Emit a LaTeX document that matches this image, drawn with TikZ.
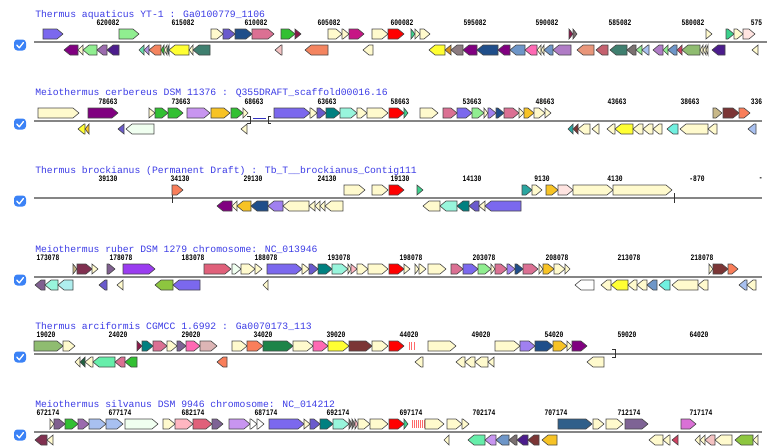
\documentclass[tikz,border=0pt]{standalone}
\usepackage{fontspec}
\usepackage{graphicx}
\newfontfamily\titlefont{Liberation Mono}
\newfontfamily\numfont{Liberation Mono}
\definecolor{cream}{HTML}{FFFACD}
\definecolor{slateA}{HTML}{7B68EE}
\definecolor{slateB}{HTML}{6A5ACD}
\definecolor{lgreen}{HTML}{90EE90}
\definecolor{dblue}{HTML}{1F4E8A}
\definecolor{pvred}{HTML}{DB7093}
\definecolor{lime}{HTML}{32C032}
\definecolor{maroonS}{HTML}{8B1A4A}
\definecolor{mvred}{HTML}{C71585}
\definecolor{gred}{HTML}{FF0000}
\definecolor{msgreen}{HTML}{3CD08C}
\definecolor{mrose}{HTML}{FFE4E1}
\definecolor{dmag}{HTML}{800080}
\definecolor{plumB}{HTML}{9B6BAE}
\definecolor{indig}{HTML}{4B1C8C}
\definecolor{maqua}{HTML}{66DDAA}
\definecolor{lpurple}{HTML}{B090E0}
\definecolor{salm}{HTML}{F4845F}
\definecolor{yel}{HTML}{FFFF33}
\definecolor{dteal}{HTML}{3F7F6F}
\definecolor{pinkS}{HTML}{F4C2C2}
\definecolor{goldrod}{HTML}{D4901F}
\definecolor{taupe}{HTML}{8B7B80}
\definecolor{steel}{HTML}{6E96C8}
\definecolor{hpink}{HTML}{FF69B4}
\definecolor{orchidB}{HTML}{B07CC6}
\definecolor{dsalm}{HTML}{E9967A}
\definecolor{ired}{HTML}{C4606E}
\definecolor{grayG}{HTML}{7A7070}
\definecolor{lblue}{HTML}{A8C0F0}
\definecolor{dsgreen}{HTML}{8FBC70}
\definecolor{crim}{HTML}{D04060}
\definecolor{goldG}{HTML}{F7C325}
\definecolor{lorchid}{HTML}{C895F0}
\definecolor{tealG}{HTML}{008080}
\definecolor{aquaG}{HTML}{98F5DC}
\definecolor{honey}{HTML}{F0FFF0}
\definecolor{tomatoG}{HTML}{F97E5A}
\definecolor{lsea}{HTML}{2AA5A0}
\definecolor{brownG}{HTML}{7B3535}
\definecolor{khakiS}{HTML}{C8B888}
\definecolor{pturq}{HTML}{AFEEEE}
\definecolor{ygreen}{HTML}{8DC63F}
\definecolor{rosyb}{HTML}{DDB5B5}
\definecolor{seag}{HTML}{1E8449}
\definecolor{sprg}{HTML}{66EEAA}
\definecolor{lpink}{HTML}{FFB6C1}
\definecolor{lcrim}{HTML}{E0607A}
\definecolor{pgray}{HTML}{7E6395}
\definecolor{violetG}{HTML}{DA70D6}
\definecolor{dsteel}{HTML}{2F5F8A}
\definecolor{dgreenS}{HTML}{206040}
\definecolor{mpurple}{HTML}{A080F0}
\definecolor{bviolet}{HTML}{9A3CF0}
\definecolor{aquaB}{HTML}{70F0E0}
\definecolor{titleblue}{HTML}{3C3CE6}
\definecolor{cbblue}{HTML}{3B82F6}
\definecolor{mpdark}{HTML}{806090}
\definecolor{brownB}{HTML}{803050}
\definecolor{crisprR}{HTML}{FF6A6A}
\newcommand\gfw[3]{\pgfmathsetmacro\hx{max(#1,#2-6)}\draw[gene,fill=#3] (#1,\trk-13) -- (\hx,\trk-13) -- (#2,\trk-8) -- (\hx,\trk-3) -- (#1,\trk-3) -- cycle;}
\newcommand\grv[3]{\pgfmathsetmacro\hx{min(#2,#1+6)}\draw[gene,fill=#3] (#2,\trk+3) -- (\hx,\trk+3) -- (#1,\trk+8) -- (\hx,\trk+13) -- (#2,\trk+13) -- cycle;}
\newcommand\sclab[2]{\node[scl] at (#1,\trk-19) {\scalebox{0.75}[1]{#2}};}
\newcommand\sclabcut[2]{\node[scl,anchor=west] at (#1,\trk-19) {\scalebox{0.75}[1]{#2}};}
\newcommand\chkbox{\fill[cbblue,rounded corners=2.5] (14,\trk-2.5) rectangle (26,\trk+8.5);
  \draw[white,line width=1pt,line cap=round,line join=round] (16.8,\trk+3.2) -- (19.3,\trk+5.8) -- (23.4,\trk+0.6);}
\tikzset{
  gene/.style={draw=black!72,line width=0.45pt,line join=miter},
  axisline/.style={draw=black!48,line width=1pt},
  ttl/.style={anchor=west,inner sep=0,font=\titlefont\fontsize{7.3}{8}\selectfont,text=titleblue},
  scl/.style={inner sep=0,font=\numfont\bfseries\fontsize{6.3}{7}\selectfont},
  tickmark/.style={draw=black!80,line width=0.6pt}
}
\begin{document}
\begin{tikzpicture}[x=0.75pt,y=-0.75pt]
\useasboundingbox (0,0) rectangle (767,446);
\fill[white] (0,0) rectangle (767,446);
% ---------------- track 1
\def\trk{42}
\node[ttl] (t1) at (35,\trk-27.5) {Thermus aquaticus YT-1 : Ga0100779\_1106};
\draw[axisline] (34,\trk) -- (767,\trk);
\chkbox
\sclab{108}{620082}\sclab{183}{615082}\sclab{256}{610082}\sclab{329}{605082}\sclab{402}{600082}
\sclab{475}{595082}\sclab{547}{590082}\sclab{620}{585082}\sclab{693}{580082}\sclabcut{750.5}{575}
\gfw{43}{63}{slateA}\gfw{119}{139}{lgreen}\gfw{211}{223}{cream}\gfw{223}{235}{slateB}
\gfw{235}{252}{dblue}\gfw{252}{274}{pvred}\gfw{281}{295}{lime}\gfw{295}{301}{maroonS}
\gfw{328}{342}{cream}\gfw{342}{349}{cream}\gfw{349}{364}{mvred}\gfw{372}{388}{cream}
\gfw{388}{404}{gred}\gfw{411}{415}{msgreen}\gfw{415}{420}{cream}\gfw{420}{430}{cream}
\gfw{569}{573}{maroonS}\gfw{573}{577}{grayG}\gfw{706}{712}{cream}\gfw{726}{734}{msgreen}
\gfw{734}{743}{cream}\gfw{743}{755}{mrose}
\grv{64}{78}{dmag}\grv{78}{83}{cream}\grv{83}{97}{lgreen}\grv{97}{107}{plumB}\grv{107}{119}{indig}
\grv{139}{144}{maqua}\grv{144}{149}{lpurple}\grv{149}{161}{salm}\grv{161}{164}{lime}
\grv{164}{167}{cream}\grv{167}{169}{dteal}\grv{169}{189}{yel}\grv{189}{193}{cream}
\grv{193}{210}{dteal}\grv{275}{282}{pinkS}\grv{305}{328}{salm}\grv{363}{373}{cream}
\grv{429}{445}{yel}\grv{445}{451}{goldrod}\grv{451}{463}{taupe}\grv{463}{477}{dmag}
\grv{477}{498}{dblue}\grv{498}{510}{dmag}\grv{510}{525}{steel}\grv{525}{537}{hpink}
\grv{537}{541}{cream}\grv{541}{544}{cream}\grv{544}{553}{steel}\grv{553}{571}{orchidB}
\grv{577}{594}{dsalm}\grv{596}{608}{ired}\grv{610}{627}{dteal}\grv{627}{636}{grayG}
\grv{636}{642}{lgreen}\grv{642}{649}{lblue}\grv{653}{663}{orchidB}\grv{663}{668}{lgreen}
\grv{668}{677}{steel}\grv{677}{682}{crim}\grv{682}{700}{dsgreen}\grv{700}{703}{cream}
\grv{703}{706}{cream}\grv{706}{708}{cream}\grv{712}{725}{indig}\grv{752}{758}{cream}
% ---------------- track 2
\def\trk{121}
\node[ttl] (t2) at (35,\trk-28.5) {Meiothermus cerbereus DSM 11376 : Q355DRAFT\_scaffold00016.16};
\draw[axisline] (34,\trk) -- (762,\trk);
\chkbox
\sclab{108}{78663}\sclab{181}{73663}\sclab{254}{68663}\sclab{327}{63663}\sclab{400}{58663}
\sclab{472}{53663}\sclab{545}{48663}\sclab{617}{43663}\sclab{690}{38663}\sclabcut{750.5}{336}
\draw[tickmark] (247,\trk-5) -- (250,\trk-5) -- (250,\trk+2) -- (247,\trk+2);
\draw[tickmark] (271,\trk-5) -- (268,\trk-5) -- (268,\trk+2) -- (271,\trk+2);
\draw[draw=blue!70!black!80,line width=0.8pt] (253,\trk-2.5) -- (266,\trk-2.5);
\gfw{38}{79}{cream}\gfw{88}{118}{dmag}\gfw{149}{155}{cream}\gfw{155}{168}{lime}
\gfw{168}{183}{lime}\gfw{187}{210}{lorchid}\gfw{211}{230}{goldG}\gfw{231}{243}{lime}
\gfw{243}{248}{cream}\gfw{274}{310}{slateA}\gfw{310}{317}{cream}\gfw{317}{326}{slateB}
\gfw{326}{340}{tealG}\gfw{340}{357}{aquaG}\gfw{357}{367}{cream}\gfw{367}{388}{cream}
\gfw{389}{404}{gred}\gfw{404}{408}{msgreen}\gfw{420}{438}{cream}\gfw{443}{457}{pvred}
\gfw{457}{472}{slateA}\gfw{472}{484}{lgreen}\gfw{484}{488}{cream}\gfw{488}{496}{mpurple}
\gfw{496}{504}{dblue}\gfw{504}{519}{pvred}\gfw{519}{524}{cream}\gfw{524}{534}{goldG}
\gfw{534}{545}{cream}\gfw{545}{551}{cream}\gfw{713}{722}{khakiS}\gfw{723}{739}{brownG}
\gfw{739}{750}{tomatoG}
\grv{78}{85}{yel}\grv{85}{89}{goldG}\grv{118}{124}{slateB}\grv{126}{154}{honey}
\grv{241}{247}{cream}\grv{568}{573}{lsea}\grv{573}{578}{brownG}\grv{578}{590}{cream}
\grv{592}{599}{cream}\grv{607}{615}{cream}\grv{615}{633}{yel}\grv{633}{643}{cream}
\grv{643}{653}{cream}\grv{653}{662}{cream}\grv{667}{678}{aquaB}\grv{680}{708}{cream}
\grv{708}{717}{cream}\grv{748}{756}{lblue}
% ---------------- track 3
\def\trk{198}
\node[ttl] (t3) at (35,\trk-27.5) {Thermus brockianus (Permanent Draft) : Tb\_T\_\_brockianus\_Contig111};
\draw[axisline] (34,\trk) -- (762,\trk);
\chkbox
\sclab{108}{39130}\sclab{180}{34130}\sclab{253}{29130}\sclab{327}{24130}\sclab{400}{19130}
\sclab{472}{14130}\sclab{542}{9130}\sclab{615}{4130}\sclab{697}{-870}\sclabcut{758.5}{-}
\draw[tickmark] (172,\trk-4) -- (172,\trk+5);
\draw[tickmark] (674,\trk-5) -- (674,\trk+5);
\gfw{172}{183}{tomatoG}\gfw{344}{365}{cream}\gfw{372}{388}{cream}\gfw{389}{404}{gred}
\gfw{417}{423}{msgreen}\gfw{522}{532}{lsea}\gfw{532}{542}{cream}\gfw{546}{558}{goldG}
\gfw{558}{573}{mrose}\gfw{573}{613}{cream}\gfw{613}{672}{cream}
\grv{217}{232}{dmag}\grv{232}{237}{cream}\grv{237}{251}{goldG}\grv{251}{268}{dblue}
\grv{268}{283}{mpurple}\grv{283}{309}{cream}\grv{309}{315}{cream}\grv{315}{320}{cream}
\grv{320}{325}{cream}\grv{325}{343}{cream}
\grv{423}{440}{cream}\grv{440}{457}{aquaG}\grv{457}{469}{tealG}\grv{469}{479}{slateB}
\grv{479}{485}{cream}\grv{485}{521}{slateA}
% ---------------- track 4
\def\trk{277}
\node[ttl] (t4) at (35,\trk-28) {Meiothermus ruber DSM 1279 chromosome: NC\_013946};
\draw[axisline] (34,\trk) -- (762,\trk);
\chkbox
\sclab{48}{173078}\sclab{121}{178078}\sclab{193}{183078}\sclab{266}{188078}\sclab{339}{193078}
\sclab{411}{198078}\sclab{484}{203078}\sclab{557}{208078}\sclab{629}{213078}\sclab{702}{218078}
\gfw{73}{77}{khakiS}\gfw{77}{92}{brownB}\gfw{92}{98}{cream}\gfw{107}{115}{mpdark}
\gfw{123}{155}{bviolet}\gfw{204}{231}{lcrim}\gfw{232}{241}{honey}\gfw{241}{255}{cream}
\gfw{255}{262}{cream}\gfw{267}{302}{slateA}\gfw{302}{309}{cream}\gfw{309}{318}{slateB}
\gfw{318}{332}{tealG}\gfw{332}{348}{aquaG}\gfw{348}{351}{cream}\gfw{351}{357}{lpink}
\gfw{357}{368}{cream}\gfw{368}{388}{cream}\gfw{389}{404}{gred}\gfw{404}{410}{cream}
\gfw{415}{419}{cream}\gfw{419}{426}{cream}\gfw{428}{446}{cream}\gfw{451}{463}{pvred}
\gfw{463}{478}{slateA}\gfw{478}{491}{lgreen}\gfw{491}{495}{cream}\gfw{495}{507}{pvred}
\gfw{507}{515}{mpurple}\gfw{515}{523}{dblue}\gfw{523}{538}{pvred}\gfw{539}{543}{cream}
\gfw{543}{554}{goldG}\gfw{554}{565}{cream}\gfw{565}{570}{cream}\gfw{709}{713}{cream}
\gfw{713}{728}{brownG}\gfw{728}{738}{tomatoG}
\grv{35}{45}{mpdark}\grv{45}{58}{aquaG}\grv{58}{73}{pturq}\grv{99}{107}{slateB}
\grv{117}{123}{cream}\grv{155}{173}{ygreen}\grv{173}{200}{slateA}\grv{263}{268}{cream}
\grv{575}{594}{white}\grv{601}{611}{cream}\grv{611}{628}{yel}\grv{628}{637}{cream}
\grv{637}{647}{cream}\grv{647}{657}{steel}\grv{659}{670}{aquaB}\grv{672}{698}{cream}
\grv{698}{708}{cream}\grv{739}{747}{lblue}\grv{747}{756}{cream}
% ---------------- track 5
\def\trk{354}
\node[ttl] (t5) at (35,\trk-27.5) {Thermus arciformis CGMCC 1.6992 : Ga0070173\_113};
\draw[axisline] (34,\trk) -- (762,\trk);
\chkbox
\sclab{46}{19020}\sclab{118}{24020}\sclab{191}{29020}\sclab{263}{34020}\sclab{336}{39020}
\sclab{409}{44020}\sclab{481}{49020}\sclab{554}{54020}\sclab{627}{59020}\sclab{699}{64020}
\draw[tickmark] (612,\trk-5) -- (615,\trk-5) -- (615,\trk+3) -- (612,\trk+3);
\foreach \cx in {409,411.5,414}{\draw[crisprR,line width=0.7pt] (\cx,\trk-12) -- (\cx,\trk-4);}
\gfw{34}{63}{dsgreen}\gfw{63}{75}{cream}\gfw{137}{142}{maroonS}\gfw{142}{153}{tealG}
\gfw{153}{167}{pvred}\gfw{167}{177}{cream}\gfw{177}{186}{pgray}\gfw{186}{200}{hpink}
\gfw{200}{217}{rosyb}\gfw{232}{247}{cream}\gfw{247}{263}{tomatoG}\gfw{263}{293}{seag}
\gfw{293}{313}{cream}\gfw{313}{328}{hpink}\gfw{328}{349}{yel}\gfw{349}{372}{brownG}
\gfw{372}{388}{cream}\gfw{389}{404}{gred}\gfw{428}{456}{cream}\gfw{495}{520}{cream}
\gfw{520}{535}{mpurple}\gfw{535}{553}{dblue}\gfw{553}{567}{goldG}\gfw{567}{572}{cream}
\gfw{572}{587}{dmag}
\grv{75}{80}{cream}\grv{80}{85}{dgreenS}\grv{85}{93}{cream}\grv{93}{115}{sprg}
\grv{115}{125}{pvred}\grv{125}{137}{lime}\grv{217}{227}{tomatoG}\grv{415}{423}{cream}
\grv{456}{465}{cream}\grv{465}{475}{cream}\grv{475}{488}{cream}\grv{488}{494}{cream}
\grv{587}{604}{cream}
% ---------------- track 6
\def\trk{432}
\node[ttl] (t6) at (35,\trk-28) {Meiothermus silvanus DSM 9946 chromosome: NC\_014212};
\draw[axisline] (34,\trk) -- (762,\trk);
\chkbox
\sclab{48}{672174}\sclab{120}{677174}\sclab{193}{682174}\sclab{266}{687174}\sclab{338}{692174}
\sclab{411}{697174}\sclab{484}{702174}\sclab{556}{707174}\sclab{629}{712174}\sclab{701}{717174}
\foreach \cx in {412,414,416,418,420,422,424}{\draw[crisprR,line width=0.7pt] (\cx,\trk-12) -- (\cx,\trk-4);}
\gfw{50}{54}{cream}\gfw{54}{65}{mpdark}\gfw{65}{78}{lime}\gfw{78}{89}{plumB}
\gfw{89}{106}{lblue}\gfw{106}{123}{lblue}\gfw{125}{158}{honey}\gfw{163}{175}{cream}
\gfw{175}{193}{lpink}\gfw{193}{212}{lcrim}\gfw{212}{223}{pgray}\gfw{229}{250}{lorchid}
\gfw{250}{257}{white}\gfw{257}{264}{white}\gfw{269}{304}{slateA}\gfw{304}{310}{cream}
\gfw{310}{320}{slateB}\gfw{320}{333}{tealG}\gfw{333}{349}{aquaG}\gfw{349}{352}{grayG}
\gfw{352}{355}{grayG}\gfw{355}{358}{lpink}\gfw{358}{370}{cream}\gfw{370}{388}{cream}
\gfw{389}{404}{gred}\gfw{404}{408}{msgreen}\gfw{425}{444}{cream}\gfw{447}{462}{cream}
\gfw{462}{469}{cream}\gfw{558}{592}{dsteel}\gfw{593}{604}{cream}\gfw{606}{623}{cream}
\gfw{625}{648}{pgray}\gfw{681}{696}{violetG}
\grv{35}{47}{brownB}\grv{47}{53}{cream}\grv{444}{449}{cream}\grv{468}{485}{sprg}
\grv{485}{496}{lorchid}\grv{496}{509}{steel}\grv{509}{517}{grayG}\grv{517}{528}{indig}
\grv{528}{539}{brownG}\grv{542}{557}{goldG}\grv{649}{663}{cream}\grv{663}{670}{cream}
\grv{672}{678}{crim}\grv{695}{700}{cream}\grv{700}{705}{cream}\grv{705}{715}{pinkS}
\grv{715}{732}{cream}\grv{735}{753}{ygreen}\grv{753}{758}{cream}
\end{tikzpicture}
\end{document}
